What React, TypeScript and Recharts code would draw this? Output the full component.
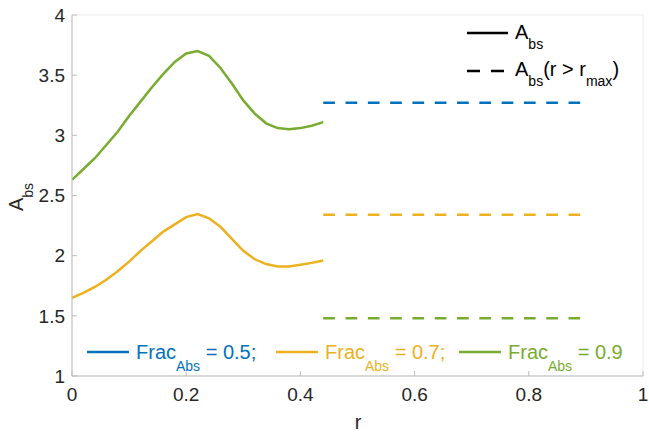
import { LineChart, Line, XAxis, YAxis, CartesianGrid } from 'recharts';

// radial positions (sampled every 0.02) for the solid curves
const rSamples = [
  0, 0.02, 0.04, 0.06, 0.08, 0.1, 0.12, 0.14, 0.16, 0.18, 0.2, 0.22,
  0.24, 0.26, 0.28, 0.3, 0.32, 0.34, 0.36, 0.38, 0.4, 0.42, 0.44,
];
const absFrac07 = [
  1.65, 1.69, 1.74, 1.8, 1.87, 1.95, 2.04, 2.12, 2.2, 2.26, 2.32, 2.345,
  2.31, 2.24, 2.14, 2.04, 1.97, 1.93, 1.91, 1.91, 1.925, 1.94, 1.96,
];
const absFrac09 = [
  2.63, 2.72, 2.81, 2.92, 3.03, 3.16, 3.28, 3.4, 3.51, 3.61, 3.68, 3.7,
  3.66, 3.56, 3.43, 3.29, 3.18, 3.1, 3.06, 3.05, 3.06, 3.08, 3.11,
];

// constant values beyond r_max
const rBeyond = [0.44, 0.89];
const beyondLevels = [3.27, 2.34, 1.48]; // Frac 0.5, 0.7, 0.9

const xTicks = [0, 0.2, 0.4, 0.6, 0.8, 1];
const yTicks = [1, 1.5, 2, 2.5, 3, 3.5, 4];

const BLUE = '#0072BD';
const YELLOW = '#EDB120';
const GREEN = '#77AC30';

const fracLegend = [
  { label: '0.5;', color: BLUE, x: 87 },
  { label: '0.7;', color: YELLOW, x: 276 },
  { label: '0.9', color: GREEN, x: 459 },
];

const toSeries = (ys: number[]) => rSamples.map((r, i) => ({ r, v: ys[i] }));
const flat = (level: number) => rBeyond.map((r) => ({ r, v: level }));

const FONT = '"Liberation Sans", Arial, Helvetica, sans-serif';
const AXIS = '#bdbdbd';
const TEXT = '#262626';

function YLabel() {
  return (
    <text
      transform="translate(23,197) rotate(-90)"
      textAnchor="middle"
      fontFamily={FONT}
      fontSize={20}
      fill={TEXT}
    >
      <tspan>A</tspan>
      <tspan dy={10} fontSize={14}>bs</tspan>
    </text>
  );
}

function Legends() {
  return (
    <svg
      width={649}
      height={433}
      style={{ position: 'absolute', left: 0, top: 0, pointerEvents: 'none' }}
      fontFamily={FONT}
    >
      {/* line style legend */}
      <line x1={467} x2={508} y1={33} y2={33} stroke="#000" strokeWidth={2.5} />
      <text x={515} y={38.5} fontSize={20} fill="#000">
        <tspan>A</tspan>
        <tspan dy={10} fontSize={14}>bs</tspan>
      </text>
      <line x1={467} x2={504} y1={71} y2={71} stroke="#000" strokeWidth={2.5} strokeDasharray="13 11" />
      <text x={515} y={75.5} fontSize={20} fill="#000">
        <tspan>A</tspan>
        <tspan dy={10} fontSize={14}>bs</tspan>
        <tspan dy={-10}>(r &gt; r</tspan>
        <tspan dy={10} fontSize={14}>max</tspan>
        <tspan dy={-10}>)</tspan>
      </text>

      {/* colour legend */}
      {fracLegend.map((f) => (
        <g key={f.label}>
          <line x1={f.x} x2={f.x + 42} y1={352} y2={352} stroke={f.color} strokeWidth={2.5} />
          <text x={f.x + 49} y={359} fontSize={20} fill={f.color}>
            <tspan>Frac</tspan>
            <tspan dy={12} fontSize={14}>Abs</tspan>
            <tspan dy={-12}>{` = ${f.label}`}</tspan>
          </text>
        </g>
      ))}

      {/* x axis label */}
      <text x={358} y={429} fontSize={20} fill={TEXT} textAnchor="middle">r</text>
    </svg>
  );
}

export default function App() {
  return (
    <div style={{ position: 'absolute', left: 0, top: 0, width: 649, height: 433, background: '#fff' }}>
      <LineChart width={649} height={433} margin={{ top: 15, right: 6, bottom: 0, left: 0 }}>
        <CartesianGrid stroke="#ebebeb" strokeWidth={1} />
        <XAxis
          xAxisId="b"
          dataKey="r"
          type="number"
          domain={[0, 1]}
          ticks={xTicks}
          height={57}
          stroke={AXIS}
          tickSize={-5}
          tickMargin={17}
          tick={{ fill: TEXT, fontSize: 19, fontFamily: FONT }}
          tickFormatter={(v) => String(v)}
          allowDataOverflow
        />
        <XAxis
          xAxisId="t"
          dataKey="r"
          orientation="top"
          type="number"
          domain={[0, 1]}
          ticks={xTicks}
          height={0}
          stroke={AXIS}
          tickSize={-5}
          tick={() => null}
        />
        <YAxis
          yAxisId="l"
          type="number"
          domain={[1, 4]}
          ticks={yTicks}
          width={72}
          stroke={AXIS}
          tickSize={-5}
          tickMargin={12}
          tick={{ fill: TEXT, fontSize: 19, fontFamily: FONT }}
          tickFormatter={(v) => String(v)}
          label={{ content: () => <YLabel /> }}
          allowDataOverflow
        />
        <YAxis
          yAxisId="r"
          orientation="right"
          type="number"
          domain={[1, 4]}
          ticks={yTicks}
          width={0}
          stroke={AXIS}
          tickSize={-5}
          tick={() => null}
        />
        <Line
          xAxisId="b"
          yAxisId="l"
          data={toSeries(absFrac09)}
          dataKey="v"
          stroke={GREEN}
          strokeWidth={2.5}
          dot={false}
          type="linear"
          isAnimationActive={false}
        />
        <Line
          xAxisId="b"
          yAxisId="l"
          data={toSeries(absFrac07)}
          dataKey="v"
          stroke={YELLOW}
          strokeWidth={2.5}
          dot={false}
          type="linear"
          isAnimationActive={false}
        />
        {beyondLevels.map((lvl, i) => (
          <Line
            key={i}
            xAxisId="b"
            yAxisId="l"
            data={flat(lvl)}
            dataKey="v"
            stroke={[BLUE, YELLOW, GREEN][i]}
            strokeWidth={2.5}
            strokeDasharray="11.7 10.6"
            dot={false}
            type="linear"
            isAnimationActive={false}
          />
        ))}
      </LineChart>
      <Legends />
    </div>
  );
}
